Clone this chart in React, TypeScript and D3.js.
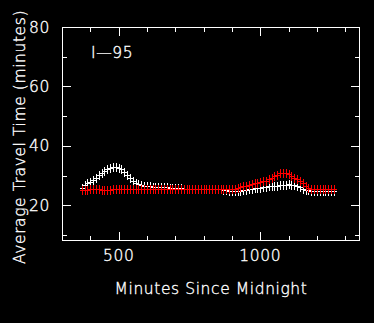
import React, { useEffect, useRef } from "react";
import * as d3 from "d3";

// minutes since midnight, one sample every 10 min
const minutes = [
  370, 380, 390, 400, 410, 420, 430, 440, 450, 460,
  470, 480, 490, 500, 510, 520, 530, 540, 550, 560,
  570, 580, 590, 600, 610, 620, 630, 640, 650, 660,
  670, 680, 690, 700, 710, 720, 730, 740, 750, 760,
  770, 780, 790, 800, 810, 820, 830, 840, 850, 860,
  870, 880, 890, 900, 910, 920, 930, 940, 950, 960,
  970, 980, 990, 1000, 1010, 1020, 1030, 1040, 1050, 1060,
  1070, 1080, 1090, 1100, 1110, 1120, 1130, 1140, 1150, 1160,
  1170, 1180, 1190, 1200, 1210, 1220, 1230, 1240, 1250, 1260,
];

// white series
const travelA = [
  26.0, 26.8, 27.4, 28.0, 28.7, 29.4, 30.1, 30.8, 31.5, 32.2,
  32.7, 33.0, 33.0, 32.7, 32.1, 31.3, 30.3, 29.3, 28.4, 27.7,
  27.2, 26.9, 26.7, 26.5, 26.4, 26.3, 26.3, 26.2, 26.2, 26.1,
  26.1, 26.0, 26.0, 25.9, 25.8, 25.8, 25.7, 25.6, 25.5, 25.5,
  25.5, 25.5, 25.5, 25.5, 25.5, 25.5, 25.5, 25.5, 25.5, 25.4,
  25.2, 25.1, 25.0, 25.0, 25.0, 25.0, 25.0, 25.1, 25.2, 25.4,
  25.6, 25.8, 25.9, 26.0, 26.1, 26.2, 26.4, 26.5, 26.6, 26.7,
  26.8, 26.9, 27.0, 27.1, 27.0, 26.9, 26.6, 26.1, 25.6, 25.3,
  25.1, 25.0, 25.0, 25.0, 25.0, 25.0, 25.0, 25.0, 25.0, 25.0,
];

// red series
const travelB = [
  25.2, 25.3, 25.3, 25.4, 25.4, 25.4, 25.4, 25.3, 25.3, 25.3,
  25.3, 25.4, 25.4, 25.4, 25.4, 25.5, 25.5, 25.5, 25.5, 25.5,
  25.5, 25.5, 25.5, 25.5, 25.5, 25.5, 25.5, 25.5, 25.5, 25.5,
  25.5, 25.5, 25.5, 25.5, 25.5, 25.5, 25.5, 25.5, 25.5, 25.5,
  25.5, 25.5, 25.5, 25.5, 25.5, 25.5, 25.5, 25.5, 25.5, 25.5,
  25.5, 25.5, 25.5, 25.5, 25.6, 25.8, 26.1, 26.4, 26.7, 27.0,
  27.2, 27.5, 27.7, 27.9, 28.1, 28.4, 28.8, 29.3, 29.8, 30.3,
  30.8, 31.0, 30.9, 30.5, 30.0, 29.4, 28.8, 28.1, 27.4, 26.7,
  26.0, 25.6, 25.5, 25.5, 25.5, 25.5, 25.5, 25.5, 25.5, 25.5,
];

const xMajor = [500, 1000];
const xMinor = [400, 600, 700, 800, 900, 1100, 1200, 1300];
const yMajor = [20, 40, 60, 80];
const yMinor = [10, 30, 50, 70];

const W = 374;
const H = 323;
const left = 62, right = 359, top = 27, bottom = 240;

export default function App() {
  const ref = useRef<SVGSVGElement>(null);

  useEffect(() => {
    const svg = d3.select(ref.current);
    svg.selectAll("*").remove();

    const x = d3.scaleLinear().domain([300, 1348.5]).range([left, right]);
    const y = d3.scaleLinear().domain([8.4, 80]).range([bottom, top]);
    const font = "'DejaVu Sans', sans-serif";

    svg.append("rect").attr("width", W).attr("height", H).attr("fill", "#000");

    // frame
    svg.append("rect")
      .attr("x", left + 0.5).attr("y", top + 0.5)
      .attr("width", right - left).attr("height", bottom - top)
      .attr("fill", "none").attr("stroke", "#fff").attr("stroke-width", 1);

    const ticks = svg.append("g").attr("stroke", "#fff");
    const xt = (vals: number[], len: number) => {
      vals.forEach((v) => {
        const px = Math.round(x(v)) + 0.5;
        ticks.append("line").attr("x1", px).attr("x2", px).attr("y1", bottom).attr("y2", bottom - len);
        ticks.append("line").attr("x1", px).attr("x2", px).attr("y1", top + 1).attr("y2", top + 1 + len);
      });
    };
    const yt = (vals: number[], len: number) => {
      vals.forEach((v) => {
        const py = Math.round(y(v)) + 0.5;
        ticks.append("line").attr("x1", left + 1).attr("x2", left + 1 + len).attr("y1", py).attr("y2", py);
        ticks.append("line").attr("x1", right).attr("x2", right - len).attr("y1", py).attr("y2", py);
      });
    };
    xt(xMajor, 8);
    xt(xMinor, 4);
    yt(yMajor.filter((v) => v < 80), 8);
    yt(yMinor, 4);

    // thin, bright lettering like the original vector font
    const label = (sel: d3.Selection<SVGTextElement, any, any, any>) =>
      sel.attr("fill", "#fff")
        .attr("stroke", "#fff")
        .attr("stroke-width", 0.35)
        .attr("font-family", font)
        .attr("font-weight", 200)
        .attr("font-size", 15.5)
        .attr("letter-spacing", 0.6);

    // tick labels
    svg.append("g").selectAll("text").data(xMajor).join("text")
      .attr("x", (d) => x(d)).attr("y", 261)
      .attr("text-anchor", "middle")
      .call(label)
      .text((d) => d);

    svg.append("g").selectAll("text").data(yMajor).join("text")
      .attr("x", 50).attr("y", (d) => y(d) + 5.5)
      .attr("text-anchor", "end")
      .call(label)
      .text((d) => d);

    // axis titles
    svg.append("text")
      .attr("x", 211).attr("y", 294)
      .attr("text-anchor", "middle")
      .call(label)
      .text("Minutes Since Midnight");

    svg.append("text")
      .attr("transform", "translate(25,137) rotate(-90)")
      .attr("text-anchor", "middle")
      .call(label)
      .text("Average Travel Time (minutes)");

    svg.append("text")
      .attr("x", 91).attr("y", 58)
      .call(label)
      .text("I\u201495");

    // plus markers, snapped to whole pixels so they stay sharp
    const plus = (vals: number[], color: string, hw: number, hh: number) => {
      const g = svg.append("g").attr("stroke", color).attr("stroke-width", 1);
      minutes.forEach((m, i) => {
        const cx = Math.round(x(m));
        const cy = Math.round(y(vals[i]));
        g.append("line").attr("x1", cx - hw).attr("x2", cx + hw + 1).attr("y1", cy + 0.5).attr("y2", cy + 0.5);
        g.append("line").attr("x1", cx + 0.5).attr("x2", cx + 0.5).attr("y1", cy - hh).attr("y2", cy + hh + 1);
      });
    };
    plus(travelA, "#fff", 2, 4);
    plus(travelB, "#f00", 2, 4);
  }, []);

  return (
    <>
      <style>{`body{margin:0;background:#000}`}</style>
      <svg ref={ref} width={W} height={H} style={{ display: "block" }} />
    </>
  );
}
